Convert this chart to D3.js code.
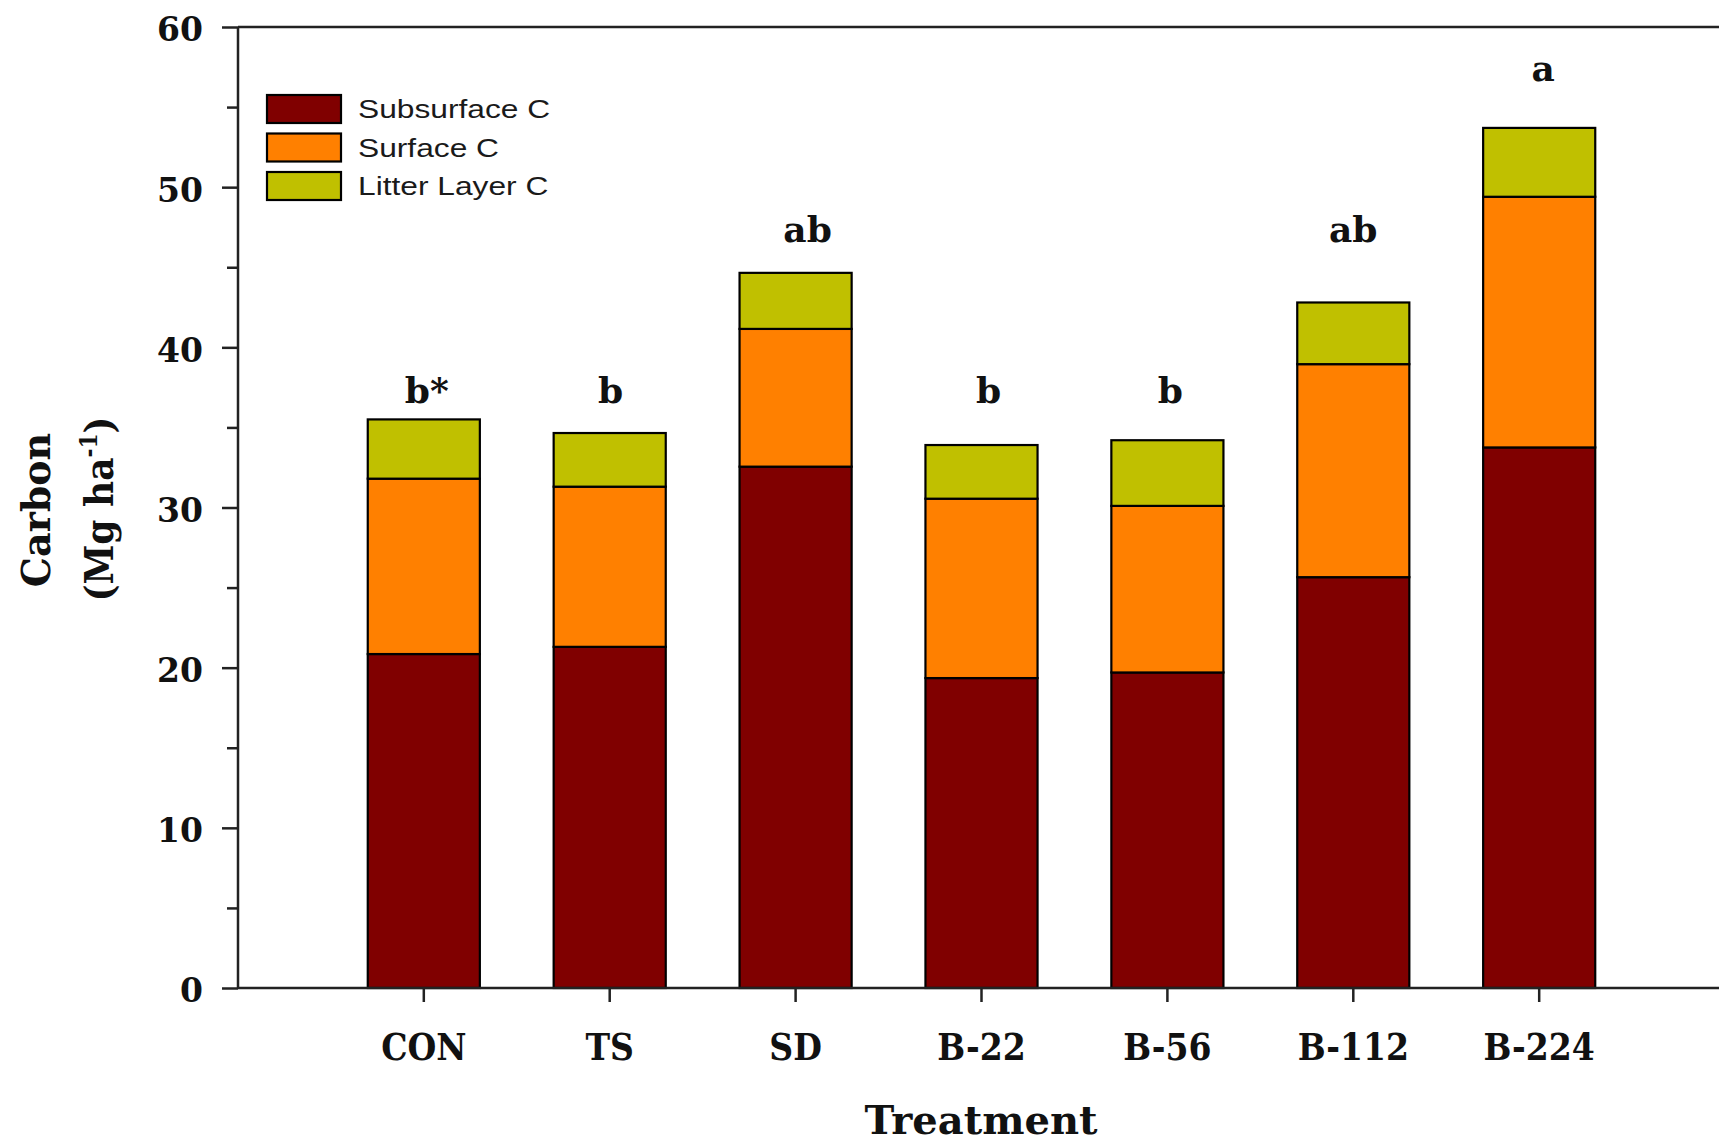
<!DOCTYPE html>
<html><head><meta charset="utf-8">
<script src="https://cdn.jsdelivr.net/npm/d3@7"></script>
<style>body{margin:0;background:#fff} svg{display:block;background:#fff}</style>
</head><body><svg id="chart" width="1719" height="1142"></svg>
<script>
const categories = ["CON","TS","SD","B-22","B-56","B-112","B-224"];
const subsurfaceC = [20.85,21.3,32.55,19.35,19.7,25.65,33.75];
const surfaceC = [10.95,10.0,8.6,11.2,10.4,13.3,15.65];
const litterC = [3.7,3.35,3.5,3.35,4.1,3.85,4.3];
const seriesKeys = ["Subsurface C","Surface C","Litter Layer C"];
const seriesColors = ["#800000","#FF8000","#C0C000"];
const sigLetters = ["b*","b","ab","b","b","ab","a"];
const sigLetterY = [36.5,36.5,46.6,36.5,36.5,46.6,56.6];
const sigLetterDx = [3,1,12,7,3,0,4];
const yTicks = [0,10,20,30,40,50,60];
const yMinorTicks = [5,15,25,35,45,55];

const svg = d3.select("#chart");
const L = 238, R = 1725, T = 27, B = 988;
const serif = "'DejaVu Serif', serif";
const sans = "'Liberation Sans', Arial, sans-serif";

const table = categories.map((c,i)=>({cat:c,"Subsurface C":subsurfaceC[i],"Surface C":surfaceC[i],"Litter Layer C":litterC[i]}));
const stack = d3.stack().keys(seriesKeys)(table);

const x = d3.scaleBand().domain(categories).range([L,R]).paddingInner(0.397).paddingOuter(0.698);
const y = d3.scaleLinear().domain([0,60]).range([B,T]);
const color = d3.scaleOrdinal().domain(seriesKeys).range(seriesColors);

// bars
svg.append("g").selectAll("g").data(stack).join("g")
  .attr("fill", d=>color(d.key))
  .selectAll("rect").data(d=>d).join("rect")
  .attr("x", d=>x(d.data.cat))
  .attr("width", x.bandwidth())
  .attr("y", d=>y(d[1]))
  .attr("height", d=>y(d[0])-y(d[1]))
  .attr("stroke","#000").attr("stroke-width",2.2);

// y axis major
const yAx = svg.append("g").attr("transform",`translate(${L},0)`)
  .call(d3.axisLeft(y).tickValues(yTicks).tickSize(16).tickPadding(19).tickFormat(d3.format("d")));
yAx.select(".domain").remove();
yAx.selectAll("line").attr("stroke","#222").attr("stroke-width",2.5);
yAx.selectAll("text").attr("font-family",serif).attr("font-weight","bold").attr("font-size",33).attr("fill","#111").attr("dy","0.42em");
// y minor
const yMin = svg.append("g").attr("transform",`translate(${L},0)`)
  .call(d3.axisLeft(y).tickValues(yMinorTicks).tickSize(11).tickFormat(""));
yMin.select(".domain").remove();
yMin.selectAll("line").attr("stroke","#222").attr("stroke-width",2.5);

// x axis
const xAx = svg.append("g").attr("transform",`translate(0,${B})`)
  .call(d3.axisBottom(x).tickSize(14).tickPadding(58));
xAx.select(".domain").remove();
xAx.selectAll("line").attr("stroke","#222").attr("stroke-width",2.5);
xAx.selectAll("text").attr("font-family",serif).attr("font-weight","bold").attr("font-size",38).attr("fill","#111")
  .attr("y",72).attr("dy","0").attr("transform","scale(0.87,1)");

// frame lines
const frame = svg.append("g").attr("stroke","#222").attr("stroke-width",2.5);
frame.append("line").attr("x1",L).attr("x2",L).attr("y1",T).attr("y2",B);
frame.append("line").attr("x1",L).attr("x2",R).attr("y1",B).attr("y2",B);
frame.append("line").attr("x1",L).attr("x2",R).attr("y1",T).attr("y2",T);

// significance letters
svg.append("g").selectAll("text").data(categories).join("text")
  .attr("x", (d,i)=>x(d)+x.bandwidth()/2+sigLetterDx[i])
  .attr("y", (d,i)=>y(sigLetterY[i]))
  .attr("text-anchor","middle")
  .attr("font-family",serif).attr("font-weight","bold").attr("font-size",36).attr("fill","#111")
  .text((d,i)=>sigLetters[i]);

// axis titles
svg.append("text").attr("x",981).attr("y",1134).attr("text-anchor","middle")
  .attr("font-family",serif).attr("font-weight","bold").attr("font-size",40).attr("fill","#111")
  .text("Treatment");
const yt1 = svg.append("g").attr("transform","translate(50,510) rotate(-90) scale(0.95,1)");
yt1.append("text").attr("text-anchor","middle")
  .attr("font-family",serif).attr("font-weight","bold").attr("font-size",40).attr("fill","#111")
  .text("Carbon");
const yt2 = svg.append("g").attr("transform","translate(113,509) rotate(-90) scale(0.9,1)");
const t2 = yt2.append("text").attr("text-anchor","middle")
  .attr("font-family",serif).attr("font-weight","bold").attr("font-size",40).attr("fill","#111");
t2.append("tspan").text("(Mg ha");
t2.append("tspan").attr("font-size",24).attr("dy",-16).text("-1");
t2.append("tspan").attr("dy",16).text(")");

// legend
const leg = svg.append("g");
const legRowY = [95,133.5,172];
seriesKeys.forEach((k,i)=>{
  leg.append("rect").attr("x",267).attr("y",legRowY[i]).attr("width",74).attr("height",28)
    .attr("fill",color(k)).attr("stroke","#000").attr("stroke-width",2.2);
  leg.append("text").attr("transform",`translate(358,${legRowY[i]+23}) scale(1.22,1)`)
    .attr("font-family",sans).attr("font-size",26).attr("fill","#1a1a1a").text(k);
});
</script></body></html>
